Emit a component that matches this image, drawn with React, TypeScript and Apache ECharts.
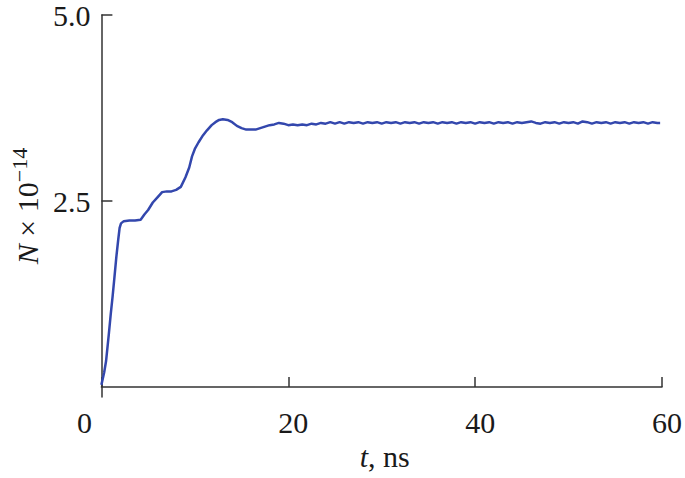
import React, { useEffect, useRef } from "react";
import * as echarts from "echarts";

const tValues: number[] = [
  0, 0.3, 0.5, 0.8, 1.0, 1.2, 1.4, 1.6, 1.8, 1.95, 2.1, 2.4, 3.0, 3.6, 4.2, 4.6, 5.0, 5.5, 6.0, 6.5,
  7.0, 7.5, 8.0, 8.5, 9.0, 9.4, 9.7, 10.0, 10.4, 10.8, 11.3, 11.8, 12.2, 12.6, 13.0, 13.5, 14.0, 14.5,
  15.0, 15.5, 16.0, 16.5, 17.0, 17.5, 18.0, 18.5, 19.0, 19.5, 20.0, 20.5, 21.0, 21.5, 22.0, 22.5,
  23.0, 23.5, 24.0, 24.5, 25.0, 25.5, 26.0, 26.5, 27.0, 27.5, 28.0, 28.5, 29.0, 29.5, 30.0, 30.5,
  31.0, 31.5, 32.0, 32.5, 33.0, 33.5, 34.0, 34.5, 35.0, 35.5, 36.0, 36.5, 37.0, 37.5, 38.0, 38.5,
  39.0, 39.5, 40.0, 40.5, 41.0, 41.5, 42.0, 42.5, 43.0, 43.5, 44.0, 44.5, 45.0, 45.5, 46.0, 46.5,
  47.0, 47.5, 48.0, 48.5, 49.0, 49.5, 50.0, 50.5, 51.0, 51.5, 52.0, 52.5, 53.0, 53.5, 54.0, 54.5,
  55.0, 55.5, 56.0, 56.5, 57.0, 57.5, 58.0, 58.5, 59.0, 59.5, 59.8,
];

const nValues: number[] = [
  0.03, 0.2, 0.35, 0.72, 0.98, 1.22, 1.48, 1.75, 1.98, 2.14, 2.2, 2.23, 2.24, 2.24, 2.25, 2.32, 2.38, 2.48, 2.55, 2.62,
  2.63, 2.63, 2.65, 2.69, 2.82, 2.95, 3.1, 3.2, 3.29, 3.37, 3.45, 3.52, 3.56, 3.59, 3.6, 3.59, 3.56, 3.51,
  3.48, 3.46, 3.46, 3.46, 3.48, 3.5, 3.52, 3.53, 3.55, 3.54, 3.52, 3.53, 3.52, 3.53, 3.52, 3.54,
  3.53, 3.55, 3.54, 3.56, 3.54, 3.56, 3.54, 3.56, 3.55, 3.56, 3.54, 3.56, 3.55, 3.56, 3.54, 3.56,
  3.55, 3.56, 3.54, 3.56, 3.55, 3.56, 3.54, 3.56, 3.55, 3.56, 3.54, 3.56, 3.55, 3.56, 3.54, 3.56,
  3.55, 3.56, 3.54, 3.56, 3.55, 3.56, 3.54, 3.56, 3.55, 3.56, 3.54, 3.56, 3.55, 3.56, 3.57, 3.55,
  3.54, 3.56, 3.55, 3.56, 3.54, 3.56, 3.55, 3.56, 3.54, 3.57, 3.56, 3.54, 3.56, 3.55, 3.56, 3.54,
  3.56, 3.55, 3.56, 3.54, 3.56, 3.55, 3.56, 3.54, 3.56, 3.55, 3.55,
];

const xTicks: number[] = [0, 20, 40, 60];
const yTickLabels: number[] = [2.5, 5.0];

const FONT = "'Liberation Serif', 'DejaVu Serif', serif";
const AXIS_COLOR = "#333333";
const TEXT_COLOR = "#1a1a1a";
const FS = 30;

export default function App() {
  const ref = useRef<HTMLDivElement>(null);

  useEffect(() => {
    if (!ref.current) return;
    const chart = echarts.init(ref.current, undefined, { renderer: "svg" });
    const data = tValues.map((t, i) => [t, nValues[i]]);
    chart.setOption({
      animation: false,
      backgroundColor: "#ffffff",
      grid: { left: 99, right: 21, top: 12, bottom: 81 },
      xAxis: {
        type: "value",
        min: 0,
        max: 60,
        interval: 20,
        name: "{i|t}{n|, ns}",
        nameLocation: "middle",
        nameGap: 36,
        nameTextStyle: {
          rich: {
            i: { fontFamily: FONT, fontSize: FS, fontStyle: "italic", color: TEXT_COLOR, lineHeight: 30, padding: [0, 0, 0, 6] },
            n: { fontFamily: FONT, fontSize: FS, color: TEXT_COLOR, lineHeight: 30 },
          },
        },
        splitLine: { show: false },
        axisLine: { show: true, lineStyle: { color: AXIS_COLOR, width: 1.5 } },
        axisTick: { show: true, inside: true, length: 10, lineStyle: { color: AXIS_COLOR, width: 1.5 } },
        axisLabel: {
          margin: 10,
          formatter: (v: number) => (v === 0 ? "{z|0}" : `{d|${v}}`),
          customValues: xTicks,
          rich: {
            z: { fontFamily: FONT, fontSize: FS, color: TEXT_COLOR, lineHeight: 30, padding: [0, 34, 0, 0] },
            d: { fontFamily: FONT, fontSize: FS, color: TEXT_COLOR, lineHeight: 30, padding: [0, 0, 0, 10] },
          },
        },
      },
      yAxis: {
        type: "value",
        min: -0.133,
        max: 5.0,
        name: "{i|N}{n| × 10}{s|−14}",
        nameLocation: "middle",
        nameGap: 56,
        nameTextStyle: {
          rich: {
            i: { fontFamily: FONT, fontSize: FS, fontStyle: "italic", color: TEXT_COLOR, lineHeight: 34, verticalAlign: "bottom" },
            n: { fontFamily: FONT, fontSize: FS, color: TEXT_COLOR, lineHeight: 34, verticalAlign: "bottom" },
            s: { fontFamily: FONT, fontSize: 22, color: TEXT_COLOR, lineHeight: 20, verticalAlign: "top" },
          },
        },
        splitLine: { show: false },
        axisLine: { show: true, lineStyle: { color: AXIS_COLOR, width: 1.5 } },
        axisTick: {
          show: true,
          inside: true,
          length: 11,
          customValues: yTickLabels,
          lineStyle: { color: AXIS_COLOR, width: 1.5 },
        },
        axisLabel: {
          margin: 11,
          fontFamily: FONT,
          fontSize: FS,
          color: TEXT_COLOR,
          customValues: yTickLabels,
          formatter: (v: number) => v.toFixed(1),
        },
      },
      series: [
        {
          type: "line",
          data,
          showSymbol: false,
          symbol: "none",
          lineStyle: { color: "#3347ad", width: 2.5 },
        },
      ],
    });
    return () => chart.dispose();
  }, []);

  return (
    <div
      ref={ref}
      style={{ position: "absolute", left: 0, top: 0, width: 685, height: 478 }}
    />
  );
}
